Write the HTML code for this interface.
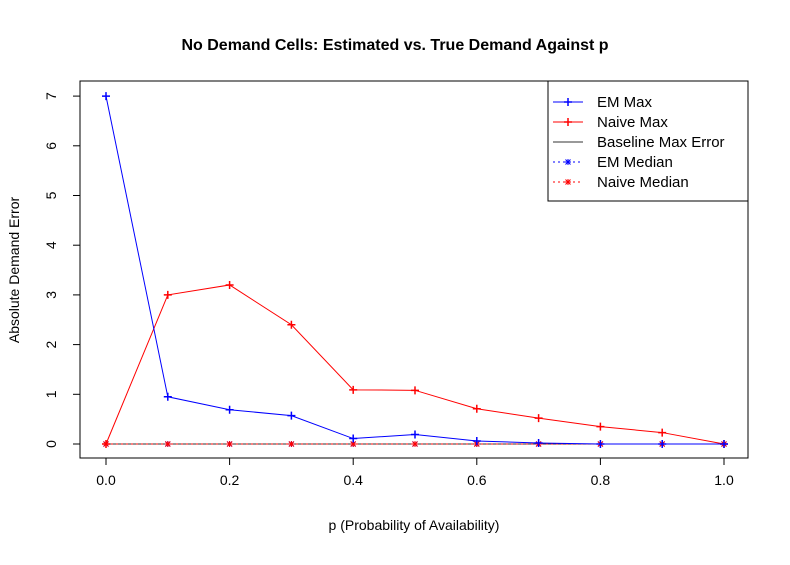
<!DOCTYPE html>
<html><head><meta charset="utf-8"><style>body{margin:0;background:#fff}svg{font-family:"Liberation Sans",Arial,sans-serif}</style></head>
<body>
<svg id="c" width="790" height="560" xmlns="http://www.w3.org/2000/svg"></svg>
<script>
const pValues=[0,0.1,0.2,0.3,0.4,0.5,0.6,0.7,0.8,0.9,1.0];
const emMax=[7,0.95,0.69,0.57,0.11,0.19,0.06,0.02,0,0,0];
const naiveMax=[0,3.0,3.2,2.4,1.09,1.08,0.71,0.52,0.35,0.23,0];
const baseline=[0,0,0,0,0,0,0,0,0,0,0];
const emMedian=[0,0,0,0,0,0,0,0,0,0,0];
const naiveMedian=[0,0,0,0,0,0,0,0,0,0,0];
const xTicks=[0,0.2,0.4,0.6,0.8,1.0];
const xTickLabels=["0.0","0.2","0.4","0.6","0.8","1.0"];
const yTicks=[0,1,2,3,4,5,6,7];
const ns="http://www.w3.org/2000/svg",svg=document.getElementById('c');
const X=v=>106+v*618, Y=v=>444-v*49.7;
function el(t,a,p){const e=document.createElementNS(ns,t);for(const k in a)e.setAttribute(k,a[k]);(p||svg).appendChild(e);return e;}
let t=el('text',{x:395,y:50,'text-anchor':'middle','font-size':16,'font-weight':'bold'});t.textContent='No Demand Cells: Estimated vs. True Demand Against p';

let f=el('rect',{x:80,y:81,width:668,height:377,fill:'none',stroke:'#000'});

xTicks.forEach((v,i)=>{el('line',{x1:X(v),x2:X(v),y1:458,y2:465,stroke:'#000'});
 const l=el('text',{x:X(v),y:485,'text-anchor':'middle','font-size':14});l.textContent=xTickLabels[i];
 });
yTicks.forEach(v=>{el('line',{x1:73,x2:80,y1:Y(v),y2:Y(v),stroke:'#000'});
 const l=el('text',{x:0,y:0,'text-anchor':'middle','font-size':14,transform:`translate(56,${Y(v)}) rotate(-90)`});l.textContent=v;
 });
t=el('text',{x:414,y:530,'text-anchor':'middle','font-size':14});t.textContent='p (Probability of Availability)';

t=el('text',{x:0,y:0,'text-anchor':'middle','font-size':14,transform:'translate(19,270) rotate(-90)'});t.textContent='Absolute Demand Error';

function plus(x,y,c,g){el('path',{d:`M${x-4} ${y}H${x+4}M${x} ${y-4}V${y+4}`,stroke:c,'stroke-width':1.5},g);}
function star(x,y,c,g){el('path',{d:`M${x-3} ${y}H${x+3}M${x} ${y-3}V${y+3}M${x-2.5} ${y-2.5}L${x+2.5} ${y+2.5}M${x-2.5} ${y+2.5}L${x+2.5} ${y-2.5}`,stroke:c,'stroke-width':1},g);}
function series(name,vals,c,dash,mark){const g=el('g',{});
 el('polyline',{points:vals.map((v,i)=>X(pValues[i])+','+Y(v)).join(' '),fill:'none',stroke:c,'stroke-width':1,'stroke-dasharray':dash||''},g);
 if(mark)vals.forEach((v,i)=>mark(X(pValues[i]),Y(v),c,g));}
series('series-baseline',baseline,'#333','',null);
series('series-em-median',emMedian,'#00f','2,3',star);
series('series-naive-median',naiveMedian,'#f00','2,3',star);
series('series-naive-max',naiveMax,'#f00','',plus);
series('series-em-max',emMax,'#00f','',plus);
const lg=el('g',{});
el('rect',{x:548,y:81,width:200,height:120,fill:'#fff',stroke:'#000'},lg);
const items=[['EM Max','#00f','',plus],['Naive Max','#f00','',plus],['Baseline Max Error','#333','',null],['EM Median','#00f','2,3',star],['Naive Median','#f00','2,3',star]];
items.forEach((it,i)=>{const y=102+i*20;const g=el('g',{},lg);
 el('line',{x1:553,x2:583,y1:y,y2:y,stroke:it[1],'stroke-dasharray':it[2]},g);if(it[3])it[3](568,y,it[1],g);
 const tx=el('text',{x:597,y:y+5,'font-size':15},g);tx.textContent=it[0];});
</script>
</body></html>
